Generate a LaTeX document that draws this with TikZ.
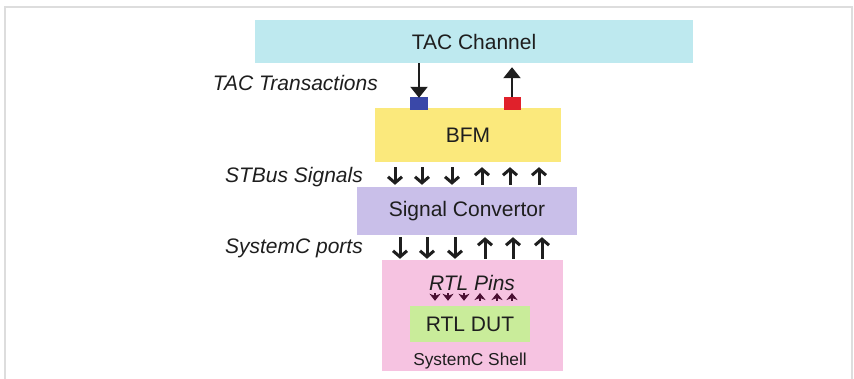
\documentclass[tikz,border=0pt]{standalone}
\usepackage{fontspec}
\setmainfont{Liberation Sans}
\usetikzlibrary{arrows.meta}

\definecolor{frameline}{HTML}{DDDDDD}
\definecolor{tacfill}{HTML}{BEE9EF}
\definecolor{bfmfill}{HTML}{FBE97C}
\definecolor{convfill}{HTML}{C9BFE9}
\definecolor{shellfill}{HTML}{F6C3E1}
\definecolor{dutfill}{HTML}{C9EC9A}
\definecolor{portblue}{HTML}{3A48A8}
\definecolor{portred}{HTML}{E0212B}
\definecolor{ink}{HTML}{1E1E1E}
\definecolor{pinink}{HTML}{4A0F32}

\tikzset{
  block/.style={rectangle, draw=none, inner sep=0pt, text=ink,
    font=\fontsize{21}{24}\selectfont},
  sidelabel/.style={anchor=base east, inner sep=0pt, text=ink,
    font=\fontsize{21}{24}\selectfont\itshape},
  port/.style={rectangle, draw=none, inner sep=0pt},
  tacarrow/.style={draw=ink, line width=2.2pt,
    -{Triangle[length=11pt,width=17pt]}},
  sigarrow/.style={draw=ink, line width=3pt,
    -{Straight Barb[length=6pt,width=14pt]}},
  pinarrow/.style={draw=pinink, line width=2.4pt,
    -{Stealth[length=7pt,width=11pt,inset=2pt]}}
}

\begin{document}
\begin{tikzpicture}[x=1pt,y=-1pt]
\useasboundingbox (0,0) rectangle (854,378);

% page frame
\draw[frameline, line width=2pt] (5,380) -- (5,7) -- (852,7) -- (852,380);

% blocks
\node[block, fill=tacfill, minimum width=438pt, minimum height=43pt]
  (tac) at (474,41.5) {TAC Channel};
\node[block, fill=bfmfill, minimum width=186pt, minimum height=54pt]
  (bfm) at (468,135) {BFM};
\node[block, fill=convfill, minimum width=220pt, minimum height=48pt]
  (conv) at (467,211) {Signal Convertor};
\node[block, fill=shellfill, minimum width=181pt, minimum height=111pt]
  (shell) at (472.5,315.5) {};
\node[block, fill=dutfill, minimum width=120pt, minimum height=36pt]
  (dut) at (470,324) {RTL DUT};
\node[anchor=center, inner sep=0pt, text=ink,
  font=\fontsize{21}{24}\selectfont\itshape] (pins) at (472,283) {RTL Pins};
\node[anchor=center, inner sep=0pt, text=ink,
  font=\fontsize{17.3}{20}\selectfont] (shelltxt) at (470,361) {SystemC Shell};

% side labels
\node[sidelabel] (lbltac) at (378,90) {TAC Transactions};
\node[sidelabel] (lblst) at (363,182) {STBus Signals};
\node[sidelabel] (lblsc) at (363,253) {SystemC ports};

% transaction ports
\node[port, fill=portblue, minimum width=18pt, minimum height=13pt]
  (pin) at (419,103.5) {};
\node[port, fill=portred, minimum width=17pt, minimum height=13pt]
  (pout) at (512,103.5) {};
\draw[tacarrow] (pin |- tac.south) -- ([yshift=-1pt]pin.north);
\draw[tacarrow, shorten >=4pt] (pout.north) -- (pout |- tac.south);

% STBus signals
\foreach \x in {395,422,452}
  \draw[sigarrow, shorten <=5pt, shorten >=2pt] (\x,0 |- bfm.south) -- (\x,0 |- conv.north);
\foreach \x in {482,510,539}
  \draw[sigarrow, shorten <=2pt, shorten >=5pt] (\x,0 |- conv.north) -- (\x,0 |- bfm.south);

% SystemC ports
\foreach \x in {400,427,455}
  \draw[sigarrow, shorten <=2pt, shorten >=1pt] (\x,0 |- conv.south) -- (\x,0 |- shell.north);
\foreach \x in {485,513,542}
  \draw[sigarrow, shorten <=1pt, shorten >=2pt] (\x,0 |- shell.north) -- (\x,0 |- conv.south);

% RTL pins
\foreach \x in {435,448,464}
  \draw[pinarrow, shorten >=5pt] (\x,293) -- (\x,0 |- dut.north);
\foreach \x in {480,497,512}
  \draw[pinarrow, shorten <=5pt] (\x,0 |- dut.north) -- (\x,293);
\end{tikzpicture}
\end{document}
